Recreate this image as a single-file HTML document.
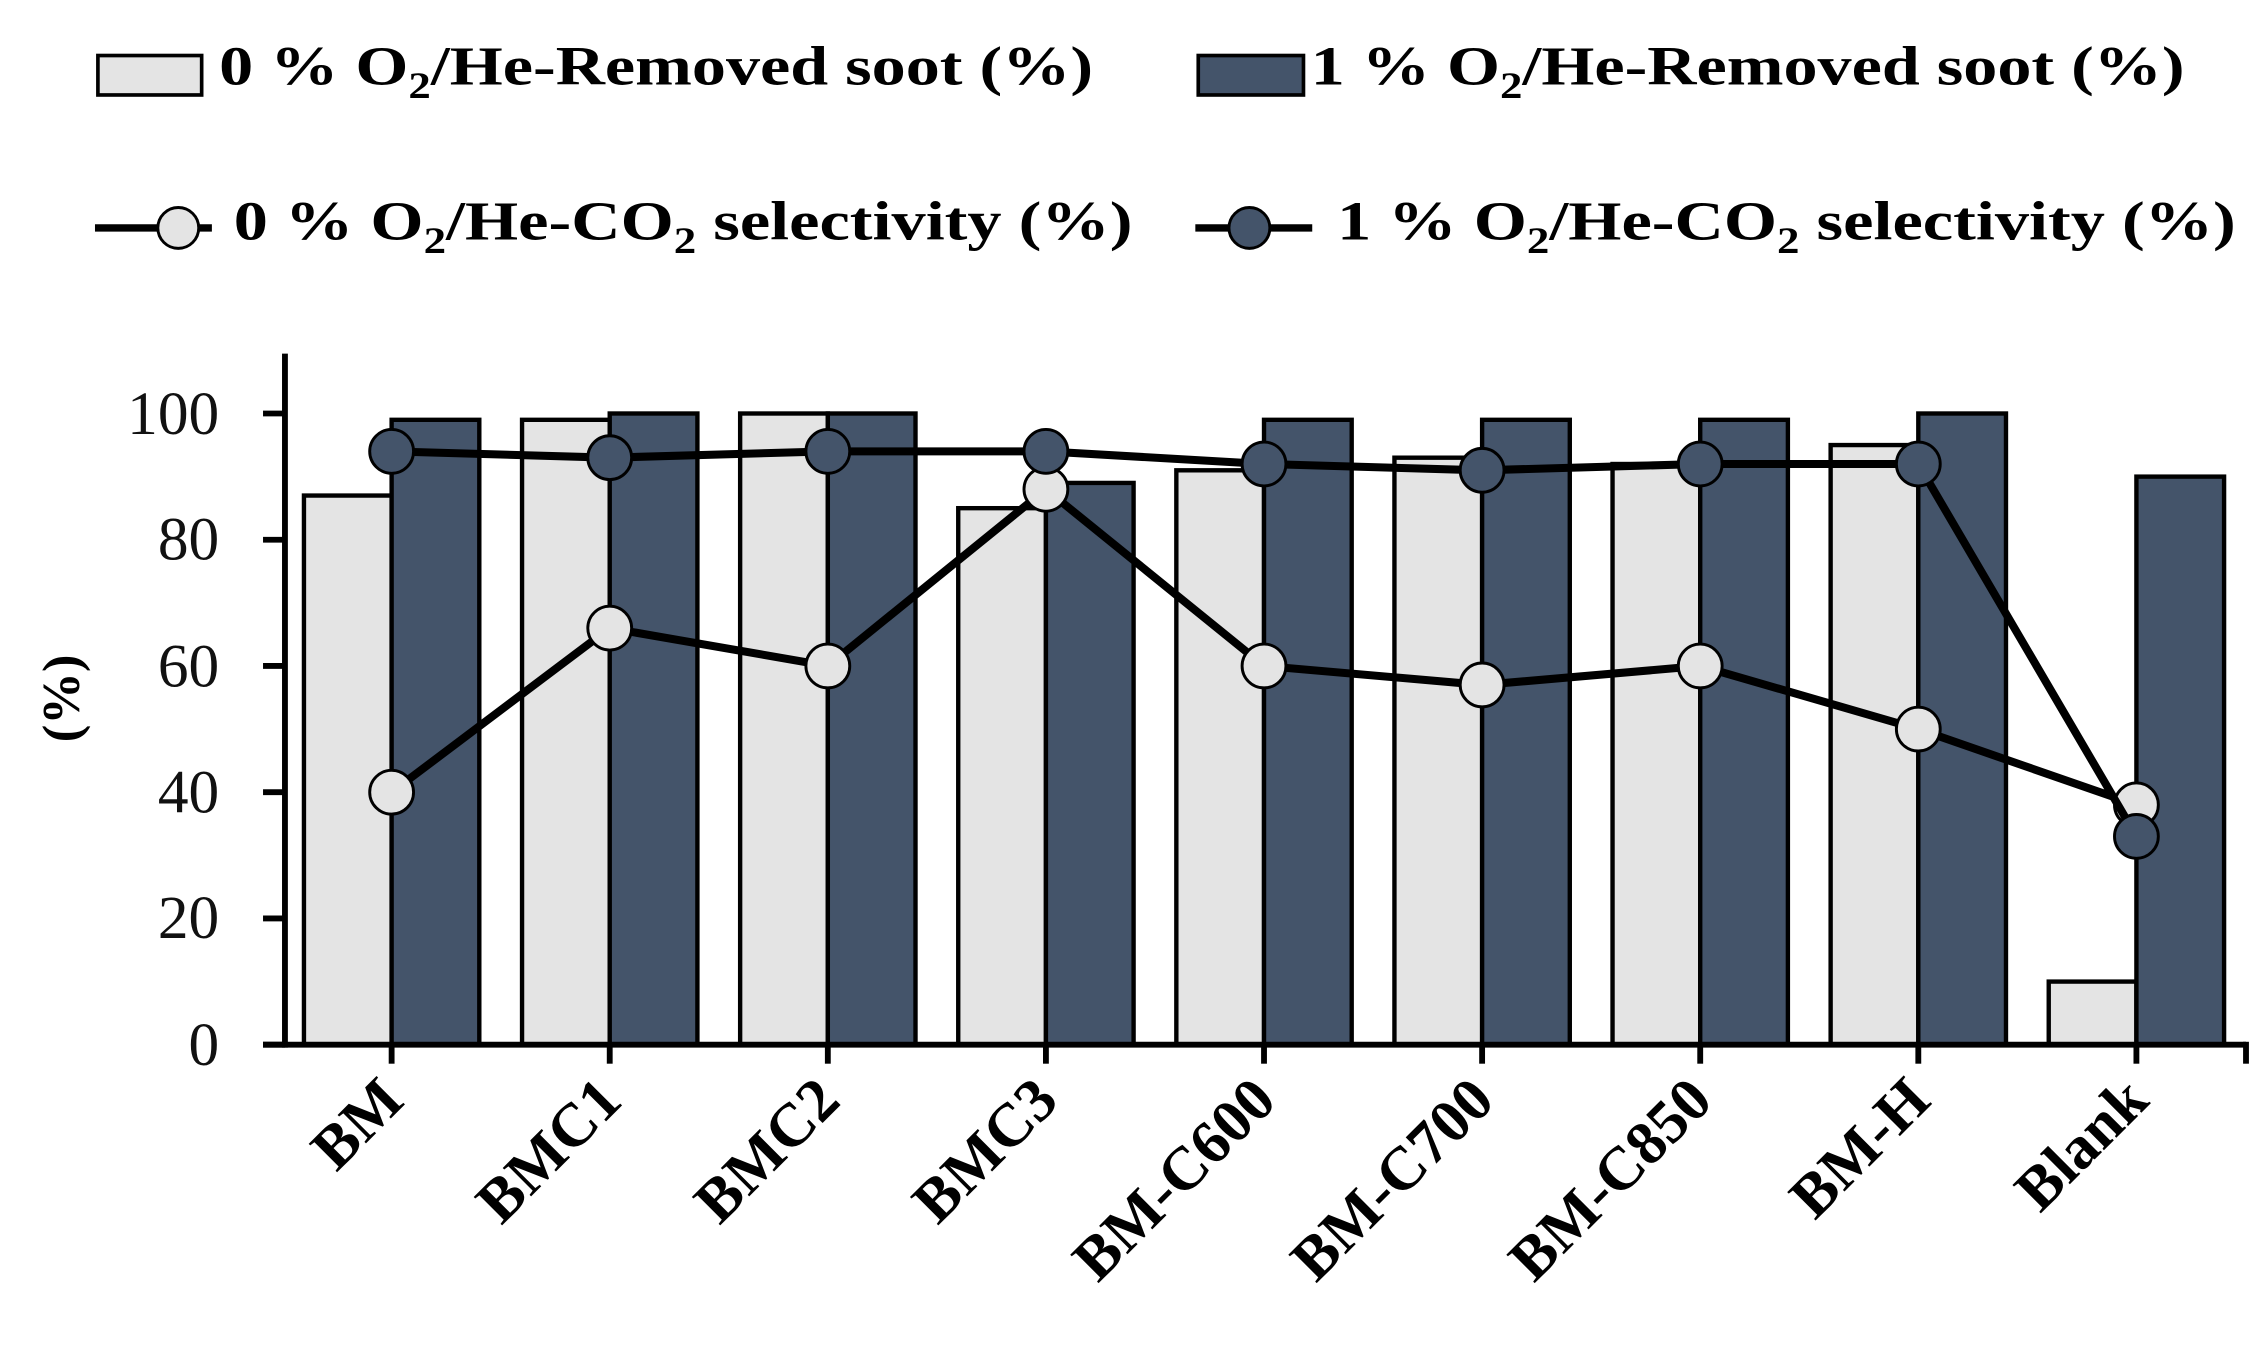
<!DOCTYPE html>
<html><head><meta charset="utf-8"><style>body{margin:0;background:#fff}svg{display:block}</style></head><body>
<svg width="2265" height="1353" viewBox="0 0 1550 926" preserveAspectRatio="none" xmlns="http://www.w3.org/2000/svg" font-family="'Liberation Serif', serif">
<g font-weight="bold" font-size="38">
<rect x="67" y="38" width="71" height="27" fill="#e4e4e4" stroke="#000" stroke-width="2.5"/>
<text x="150" y="58" textLength="598" lengthAdjust="spacingAndGlyphs">0 % O<tspan font-size="25" dy="9">2</tspan><tspan dy="-9">/He-Removed soot (%)</tspan></text>
<rect x="820" y="38" width="72" height="27" fill="#44546a" stroke="#000" stroke-width="2.5"/>
<text x="897" y="58" textLength="598" lengthAdjust="spacingAndGlyphs">1 % O<tspan font-size="25" dy="9">2</tspan><tspan dy="-9">/He-Removed soot (%)</tspan></text>
<line x1="65" y1="156" x2="145" y2="156" stroke="#000" stroke-width="5"/>
<circle cx="122" cy="156" r="14" fill="#e4e4e4" stroke="#000" stroke-width="2"/>
<text x="160" y="164" textLength="615" lengthAdjust="spacingAndGlyphs">0 % O<tspan font-size="25" dy="9">2</tspan><tspan dy="-9">/He-CO</tspan><tspan font-size="25" dy="9">2</tspan><tspan dy="-9"> selectivity  (%)</tspan></text>
<line x1="818" y1="156" x2="898" y2="156" stroke="#000" stroke-width="5"/>
<circle cx="855" cy="156" r="14" fill="#44546a" stroke="#000" stroke-width="2"/>
<text x="915" y="164" textLength="615" lengthAdjust="spacingAndGlyphs">1 % O<tspan font-size="25" dy="9">2</tspan><tspan dy="-9">/He-CO</tspan><tspan font-size="25" dy="9">2</tspan><tspan dy="-9"> selectivity  (%)</tspan></text>
</g>
<g id="bars" stroke="#000" stroke-width="3"></g>
<g font-size="42" text-anchor="end" fill="#111">
<text x="150" y="729">0</text><text x="150" y="642">20</text><text x="150" y="556">40</text><text x="150" y="470">60</text><text x="150" y="383">80</text><text x="150" y="297">100</text>
</g>
<text transform="translate(54,478) rotate(-90)" font-size="36" font-weight="bold" text-anchor="middle">(%)</text>
<g id="lines"></g>
<g id="axes" stroke="#000" stroke-width="4"></g>
<g id="xl" font-size="42" font-weight="bold" text-anchor="end"></g>
<script>
var ns="http://www.w3.org/2000/svg";
function el(p,t,a,txt){var e=document.createElementNS(ns,t);for(var k in a)e.setAttribute(k,a[k]);if(txt)e.textContent=txt;document.getElementById(p).appendChild(e);return e;}
var cats=["BM","BMC1","BMC2","BMC3","BM-C600","BM-C700","BM-C850","BM-H","Blank"];
var L=[87,99,100,85,91,93,92,95,10],D=[99,100,100,89,99,99,99,100,90];
var O=[40,66,60,88,60,57,60,50,38],F=[94,93,94,94,92,91,92,92,33];
function X(i){return 268+i*149.25}function Y(v){return 715-v*4.32}
for(var i=0;i<9;i++){var c=X(i);
el("bars","rect",{x:c-60,y:Y(L[i]),width:60,height:715-Y(L[i]),fill:"#e4e4e4"});
el("bars","rect",{x:c,y:Y(D[i]),width:60,height:715-Y(D[i]),fill:"#44546a"});
el("xl","text",{transform:"translate("+(c+10)+",755) rotate(-45)"},cats[i]);}
function line(a,fill){var p=a.map(function(v,i){return X(i)+","+Y(v)}).join(" ");
el("lines","polyline",{points:p,fill:"none",stroke:"#000","stroke-width":5.5});
a.forEach(function(v,i){el("lines","circle",{cx:X(i),cy:Y(v),r:15,fill:fill,stroke:"#000","stroke-width":2})});}
line(O,"#e4e4e4");line(F,"#44546a");
el("axes","line",{x1:195,y1:242,x2:195,y2:717});
el("axes","line",{x1:180,y1:715,x2:1537,y2:715});
[0,20,40,60,80,100].forEach(function(v){el("axes","line",{x1:180,y1:Y(v),x2:195,y2:Y(v)})});
for(var i=0;i<9;i++)el("axes","line",{x1:X(i),y1:715,x2:X(i),y2:728});
el("axes","line",{x1:1537,y1:713,x2:1537,y2:728});
</script>
</svg>
</body></html>
